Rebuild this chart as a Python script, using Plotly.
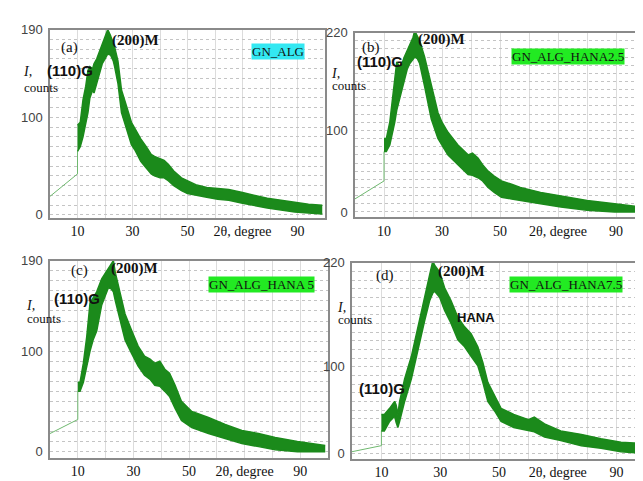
import plotly.graph_objects as go

W, H = 643, 481

# ---------------- data (lower / upper envelope of noisy band) ----------------
intro_x = [0, 10, 10]
intro_a = [19, 42, 65]
intro_b = [16, 38, 74]
intro_c = [18, 32, 60]
intro_d = [2, 9, 26]

x_a = [10, 11, 12, 13, 13.8, 14.5, 15.5, 16, 17, 18, 19, 20, 21, 22, 23, 23.5, 24.7, 26, 28, 29.6,
       31, 33, 35, 36.8, 38, 40, 41.5, 43, 45, 47.8, 50, 53, 57, 61, 65, 70, 75, 79, 84, 89, 94, 99]
lo_a = [65, 70, 80, 95, 105, 120, 128, 125, 135, 145, 155, 160, 165, 164, 158, 152, 135, 105, 88, 72,
        66, 55, 48, 42, 40, 38, 38, 35, 30, 25, 22, 20, 18, 16, 15, 12, 9, 7, 5, 3, 2, 1]
hi_a = [92, 95, 118, 132, 148, 152, 150, 155, 160, 168, 175, 182, 190, 184, 176, 172, 158, 128, 110, 95,
        88, 78, 70, 62, 60, 58, 56, 52, 45, 38, 35, 31, 28, 27, 26, 23, 20, 17, 15, 13, 11, 10]

x_b = [10, 10.8, 12, 13, 13.7, 14.4, 15.4, 16, 17, 18, 18.9, 20, 20.6, 21.5, 22.3, 24, 26.3, 28.6, 30,
       32, 35.5, 39, 40.5, 42.4, 44, 45.9, 48, 50.5, 54, 57, 64, 71, 80, 89.5, 95, 99]
lo_b = [74, 74, 82, 98, 110, 125, 138, 148, 162, 175, 182, 188, 190, 188, 182, 154, 114, 90, 82,
        70, 58, 46, 45, 42, 38, 30, 24, 18, 16, 14, 10, 6, 2, 0, 0, 0]
hi_b = [90, 90, 110, 140, 162, 184, 178, 180, 190, 198, 206, 214, 222, 216, 210, 190, 154, 122, 110,
        98, 82, 70, 72, 66, 58, 50, 44, 38, 34, 30, 24, 20, 14, 10, 8, 6]

x_c = [10, 10.8, 12, 13.2, 14.4, 15.6, 16.8, 18.6, 20, 21, 22, 22.8, 23.5, 24.6, 27, 29.3, 31.7, 34,
       36, 37.7, 39.5, 41.3, 43, 45, 47.3, 51, 57, 63, 69, 75, 81, 89, 94, 99]
lo_c = [60, 60, 69, 85, 100, 112, 120, 146, 155, 163, 162, 159, 150, 137, 111, 98, 85, 76,
        72, 66, 65, 60, 55, 43, 31, 24, 18, 13, 8, 5, 2, 0, 0, 0]
hi_c = [69, 69, 88, 114, 148, 153, 159, 172, 178, 182, 186, 190, 178, 166, 137, 121, 105, 95,
        92, 88, 90, 82, 78, 66, 50, 40, 34, 27, 21, 18, 14, 10, 8, 6]

x_d = [10, 11, 12.8, 14.5, 15, 15.6, 16.2, 17.9, 20.2, 22.4, 24.7, 26.4, 27.5, 28.1, 29.8, 31.5, 33.7,
       36, 38.3, 40.5, 42.8, 44.5, 46.2, 48.5, 50.7, 55, 60, 62, 65.5, 71, 78, 84.7, 91.5, 96, 100]
lo_d = [26, 26, 37, 43, 36, 30, 37, 60, 86, 120, 153, 176, 185, 187, 180, 165, 150,
        131, 123, 112, 101, 82, 60, 49, 37, 30, 26, 25, 19, 15, 9, 6, 2, 1, 0]
hi_d = [45, 45, 52, 60, 56, 45, 60, 86, 112, 146, 183, 206, 222, 217, 209, 191, 176,
        157, 146, 138, 123, 105, 82, 67, 52, 45, 39, 42, 34, 26, 22, 17, 13, 12, 11]

xtick_vals = [10, 30, 50, 70, 90]
xtick_text = ["10", "30", "50", "2θ, degree", "90"]

panels = [
    dict(x=x_a, lo=lo_a, hi=hi_a, intro=intro_a, yr=[-3, 190], yt=[0, 100, 190],
         xd=(42, 317), yd=(15, 208), std=0),
    dict(x=x_b, lo=lo_b, hi=hi_b, intro=intro_b, yr=[-6, 220], yt=[0, 100, 220],
         xd=(347, 637), yd=(18, 207), std=1),
    dict(x=x_c, lo=lo_c, hi=hi_c, intro=intro_c, yr=[-6, 190], yt=[0, 100, 190],
         xd=(42, 320), yd=(252, 454), std=0),
    dict(x=x_d, lo=lo_d, hi=hi_d, intro=intro_d, yr=[-6, 220], yt=[0, 100, 220],
         xd=(344, 638), yd=(254, 455), std=0),
]

GREEN = "#1b8a1b"
SERIF = "Liberation Serif"
SANS = "Liberation Sans"

fig = go.Figure()
layout = dict(width=W, height=H, margin=dict(l=0, r=0, t=0, b=0),
              paper_bgcolor="white", plot_bgcolor="white", showlegend=False)

for i, p in enumerate(panels, start=1):
    xa = "x" if i == 1 else f"x{i}"
    ya = "y" if i == 1 else f"y{i}"
    fig.add_trace(go.Scatter(x=intro_x, y=p["intro"], mode="lines", xaxis=xa, yaxis=ya,
                             line=dict(color="#6fb86f", width=1)))
    fig.add_trace(go.Scatter(x=p["x"], y=p["lo"], mode="lines", xaxis=xa, yaxis=ya,
                             line=dict(color=GREEN, width=1.5)))
    fig.add_trace(go.Scatter(x=p["x"], y=p["hi"], mode="lines", xaxis=xa, yaxis=ya,
                             fill="tonexty", fillcolor=GREEN,
                             line=dict(color=GREEN, width=1.5)))
    xl, xr = p["xd"]
    yt, yb = p["yd"]
    layout["xaxis" if i == 1 else f"xaxis{i}"] = dict(
        domain=[xl / W, xr / W], range=[0, 100], anchor=ya,
        tickvals=xtick_vals, ticktext=xtick_text, ticks="", ticklen=0,
        tickfont=dict(family=SERIF, size=14, color="#111"),
        ticklabelstandoff=p["std"],
        showgrid=False, zeroline=False,
        minor=dict(dtick=10, tick0=0, showgrid=True, gridcolor="#dcdcdc", gridwidth=1,
                   ticks="", ticklen=0),
        showline=True, linecolor="#8a8a8a", linewidth=1.5, mirror=True)
    layout["yaxis" if i == 1 else f"yaxis{i}"] = dict(
        domain=[1 - yb / H, 1 - yt / H], range=p["yr"], anchor=xa,
        tickvals=p["yt"], ticks="", ticklen=0,
        tickfont=dict(family=SANS, size=13, color="#444"),
        ticklabelstandoff=3,
        showgrid=False, zeroline=False,
        minor=dict(dtick=10, tick0=0, showgrid=True, gridcolor="#c4c4c4", griddash="dot",
                   gridwidth=1, ticks="", ticklen=0),
        showline=True, linecolor="#8a8a8a", linewidth=1.5, mirror=True)

fig.update_layout(**layout)


def ann(x, y, text, size, family, bold=False, italic=False, bg=None, xanchor="left", color="#111"):
    t = text
    if bold:
        t = f"<b>{t}</b>"
    if italic:
        t = f"<i>{t}</i>"
    fig.add_annotation(x=x / W, y=1 - y / H, xref="paper", yref="paper", text=t,
                       showarrow=False, xanchor=xanchor, yanchor="middle",
                       font=dict(family=family, size=size, color=color),
                       bgcolor=bg, borderpad=0)


# panel tags
ann(52, 33, "(a)", 15, SERIF)
ann(353, 33, "(b)", 15, SERIF)
ann(62, 262, "(c)", 15, SERIF)
ann(367, 267, "(d)", 15, SERIF)

# (200)M
ann(103, 26, "(200)M", 15, SERIF, bold=True)
ann(409, 25, "(200)M", 15, SERIF, bold=True)
ann(102, 260, "(200)M", 15, SERIF, bold=True)
ann(429, 263, "(200)M", 15, SERIF, bold=True)

# (110)G
ann(38, 57, "(110)G", 15, SANS, bold=True)
ann(348, 48, "(110)G", 15, SANS, bold=True)
ann(45, 291, "(110)G", 15, SANS, bold=True)
ann(350, 383, "(110)G", 15, SANS, bold=True)
ann(448, 310, "HANA", 13, SANS, bold=True)

# y axis titles
for (xi, yi, yc) in [(14, 58, 74), (322, 60, 72), (17, 298, 311), (328, 300, 312)]:
    ann(xi, yi, "I,", 14, SERIF, italic=True)
    ann(xi + 1, yc, "counts", 13, SERIF)

# legend boxes
ann(243, 37, "GN_ALG", 13, SERIF, bg="#33e8f2")
ann(503, 43, "GN_ALG_HANA2.5", 13, SERIF, bg="#22ea22")
ann(200, 276, "GN_ALG_HANA 5", 13, SERIF, bg="#22ea22")
ann(501, 276, "GN_ALG_HANA7.5", 13, SERIF, bg="#22ea22")

fig.write_html("out.html")
